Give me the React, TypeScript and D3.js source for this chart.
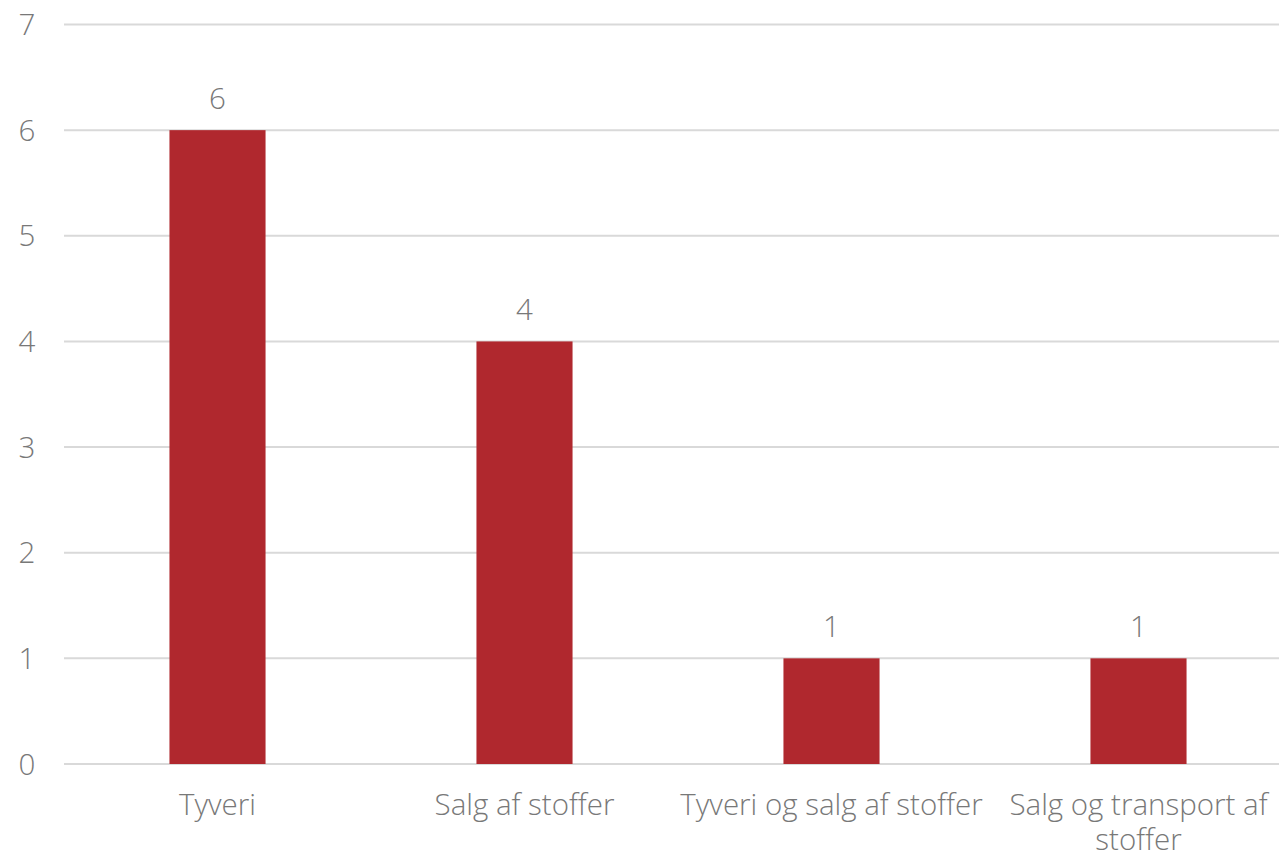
import React, { useEffect, useRef } from "react";
import * as d3 from "d3";

const categories = ["Tyveri", "Salg af stoffer", "Tyveri og salg af stoffer", "Salg og transport af stoffer"];
const values = [6, 4, 1, 1];
const yTicks = [0, 1, 2, 3, 4, 5, 6, 7];

const W = 1279;
const H = 856;
const FONT = "'Open Sans', 'Noto Sans', sans-serif";
const TEXT = "#787878";
const FS = "29.5px";

export default function App() {
  const ref = useRef<SVGSVGElement | null>(null);
  useEffect(() => {
    const svg = d3.select(ref.current);
    svg.selectAll("*").remove();
    const left = 64;
    const step = 307;
    const x = d3
      .scaleBand<string>()
      .domain(categories)
      .range([left, left + step * categories.length])
      .paddingInner(0.687)
      .paddingOuter(0.3435);
    const y = d3.scaleLinear().domain([0, 7]).range([764, 24.5]);

    const g = svg.append("g");
    g.selectAll("line.grid")
      .data(yTicks)
      .enter()
      .append("line")
      .attr("x1", left)
      .attr("x2", W)
      .attr("y1", (d) => y(d))
      .attr("y2", (d) => y(d))
      .attr("stroke", "#d9d9d9")
      .attr("stroke-width", 2);

    g.selectAll("text.ytick")
      .data(yTicks)
      .enter()
      .append("text")
      .attr("x", 27)
      .attr("y", (d) => y(d) + 10.5)
      .attr("text-anchor", "middle")
      .attr("fill", TEXT)
      .style("font-family", FONT)
      .style("font-weight", 300)
      .style("font-size", FS)
      .text((d) => String(d));

    g.selectAll("rect.bar")
      .data(values)
      .enter()
      .append("rect")
      .attr("x", (_, i) => x(categories[i])!)
      .attr("width", x.bandwidth())
      .attr("y", (d) => y(d))
      .attr("height", (d) => y(0) - y(d))
      .attr("fill", "#b0282e");

    g.selectAll("text.val")
      .data(values)
      .enter()
      .append("text")
      .attr("x", (_, i) => x(categories[i])! + x.bandwidth() / 2)
      .attr("y", (d) => y(d) - 21)
      .attr("text-anchor", "middle")
      .attr("fill", TEXT)
      .style("font-family", FONT)
      .style("font-weight", 300)
      .style("font-size", FS)
      .text((d) => String(d));

    const labels = g
      .selectAll("text.cat")
      .data(categories)
      .enter()
      .append("text")
      .attr("x", (d) => x(d)! + x.bandwidth() / 2)
      .attr("y", 815)
      .attr("text-anchor", "middle")
      .attr("fill", TEXT)
      .style("font-family", FONT)
      .style("font-weight", 300)
      .style("font-size", FS);

    labels.each(function (d) {
      const t = d3.select(this);
      const cx = +t.attr("x");
      const words = d.split(" ");
      let line: string[] = [];
      let tspan = t.append("tspan").attr("x", cx).attr("dy", 0);
      for (const w of words) {
        line.push(w);
        tspan.text(line.join(" "));
        if ((tspan.node() as SVGTSpanElement).getComputedTextLength() > 306 && line.length > 1) {
          line.pop();
          tspan.text(line.join(" "));
          line = [w];
          tspan = t.append("tspan").attr("x", cx).attr("dy", 35).text(w);
        }
      }
    });
  }, []);

  return (
    <svg ref={ref} width={W} height={H} style={{ position: "absolute", left: 0, top: 0, background: "#fff" }} />
  );
}
